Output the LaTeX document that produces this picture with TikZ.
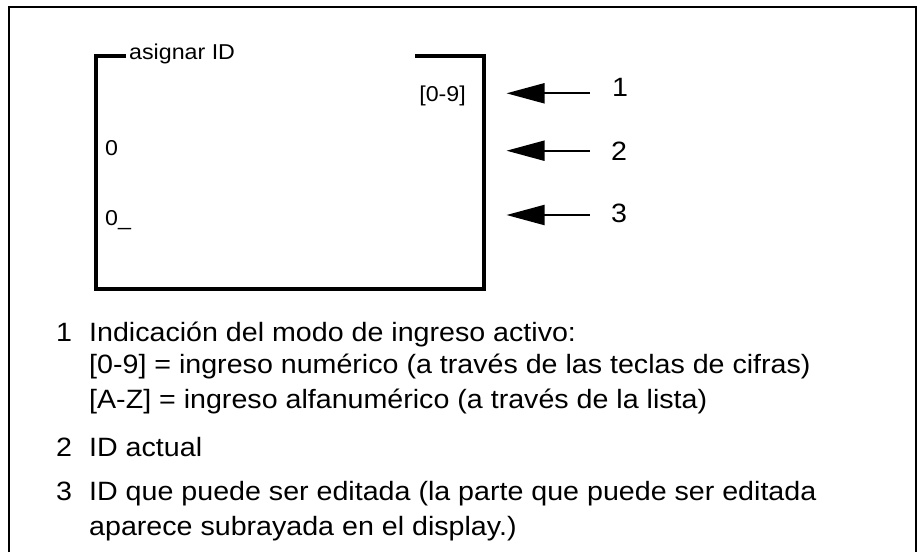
\documentclass[tikz,border=0pt]{standalone}
\usepackage{fontspec}
\setmainfont{Liberation Sans}[FakeStretch=1.08]
\usepackage{tikz}
\usetikzlibrary{arrows.meta}

\begin{document}
\begin{tikzpicture}[x=1pt, y=-1pt,
    every node/.style={inner sep=0pt, anchor=base west},
    pantalla/.style={font=\fontsize{21.5}{26}\selectfont},
    nota/.style={font=\fontsize{26.5}{31}\selectfont},
    marca/.style={font=\fontsize{26.5}{31}\selectfont},
    flecha/.style={line width=2pt, -{Triangle[length=38pt, width=20pt]}}]
            \useasboundingbox (0,0) rectangle (923,552);
            % Marco
            \draw[line width=2.5pt] (9,552) -- (9,7) -- (916,7) -- (916,552);
            % Display
            \draw[line width=3.3pt] (126,56) -- (96,56) -- (96,289) -- (484,289) -- (484,56) -- (415,56);
            \node[pantalla] (titulo) at (129,59) {asignar ID};
            \node[pantalla, anchor=base east] (modo) at (466,101.5) {[0-9]};
            \node[pantalla] (actual) at (105,155.5) {0};
            \node[pantalla] (editar) at (105,225.5) {0\_};

            % Flechas
            \node[marca] (m1) at (612,96.5) {1};
            \node[marca] (m2) at (611,160.5) {2};
            \node[marca] (m3) at (611,222) {3};
            \coordinate (c1) at (590,93.3);
            \coordinate (c2) at (590,150.7);
            \coordinate (c3) at (590,215);
            \coordinate (p1) at (506.5,93.3);
            \coordinate (p2) at (506.5,150.7);
            \coordinate (p3) at (506.5,215);
            \draw[flecha] (c1) -- (p1);
            \draw[flecha] (c2) -- (p2);
            \draw[flecha] (c3) -- (p3);

            % Leyenda
            \node[nota] (n1) at (56,341) {1};
            \node[nota] (t1) at (89,341) {Indicación del modo de ingreso activo:};
            \node[nota] (t1b) at (89,373) {[0-9] = ingreso numérico (a través de las teclas de cifras)};
            \node[nota] (t1c) at (89,408) {[A-Z] = ingreso alfanumérico (a través de la lista)};
            \node[nota] (n2) at (56,456) {2};
            \node[nota] (t2) at (89,456) {ID actual};
            \node[nota] (n3) at (56,500.5) {3};
            \node[nota] (t3) at (89,500.5) {ID que puede ser editada (la parte que puede ser editada};
            \node[nota] (t3b) at (89,535.5) {aparece subrayada en el display.)};
          \end{tikzpicture}
\end{document}
